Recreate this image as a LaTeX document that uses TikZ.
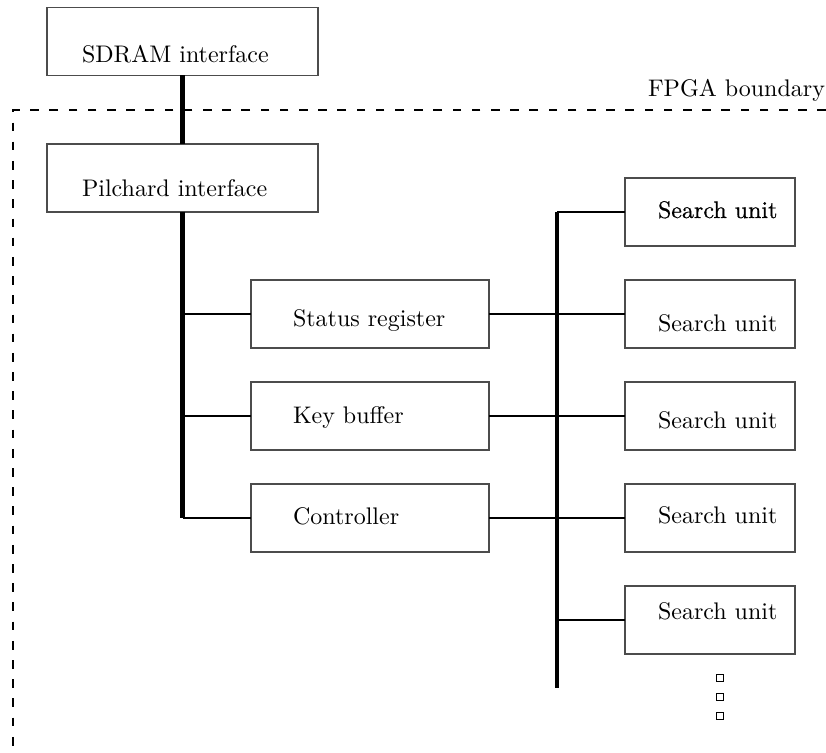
\documentclass[tikz,border=0pt]{standalone}
\usepackage{fontspec}
\newfontfamily\darkfont[FakeBold=0.6]{lmroman10-regular.otf}
\begin{document}
\def\u{0.4167pt}
\begin{tikzpicture}[x=0.4167pt,y=-0.4167pt,
  blk/.style={draw=black!70,line width=0.45pt,minimum height=68*\u,inner sep=0pt,outer sep=0pt},
  widebox/.style={blk,minimum width=271*\u},
  midbox/.style={blk,minimum width=238*\u},
  subox/.style={blk,minimum width=170*\u},
  lbl/.style={anchor=base west,inner sep=0pt,outer sep=0pt},
  bus/.style={line width=2pt},
  wire/.style={line width=0.8pt},
  bound/.style={line width=0.8pt,dash pattern=on 3.6pt off 4.4pt},
  dotbox/.style={draw,line width=0.4pt,minimum size=7*\u,inner sep=0pt}]
\useasboundingbox (0,0) rectangle (826,753);
% boxes
\node[widebox] (sdram) at (182.5,41.5) {};
\node[widebox] (pil) at (182.5,178) {};
\node[midbox] (stat) at (370,314) {};
\node[midbox] (key) at (370,416) {};
\node[midbox] (ctrl) at (370,518) {};
\node[subox] (su1) at (710,212) {};
\node[subox] (su2) at (710,314) {};
\node[subox] (su3) at (710,416) {};
\node[subox] (su4) at (710,518) {};
\node[subox] (su5) at (710,620) {};
% texts
\node[lbl] (tsdram) at (82,63) {SDRAM interface};
\node[lbl] (tpil) at (82,197) {Pilchard interface};
\node[lbl] (tstat) at (293,327) {Status register};
\node[lbl] (tkey) at (293,424) {Key buffer};
\node[lbl] (tctrl) at (293,525) {Controller};
\node[lbl] (tsu1) at (658,218) {\darkfont Search unit};
\node[lbl] (tsu2) at (658,332) {Search unit};
\node[lbl] (tsu3) at (658,429) {Search unit};
\node[lbl] (tsu4) at (658,524) {Search unit};
\node[lbl] (tsu5) at (658,620) {Search unit};
\node[lbl] (tfpga) at (648,97) {FPGA boundary};
% boundary
\coordinate (b1) at (826,110);
\coordinate (b2) at (13,110);
\coordinate (b3) at (13,753);
\draw[bound] (b1) -- (b2) -- (b3);
% left bus
\coordinate (lbend) at (182.5,518);
\draw[bus] (sdram.south) -- (pil.north);
\draw[bus] (pil.south) -- (lbend);
\coordinate (l1) at (182.5,314);
\coordinate (l2) at (182.5,416);
\draw[wire] (l1) -- (stat.west);
\draw[wire] (l2) -- (key.west);
\draw[wire] (lbend) -- (ctrl.west);
% right bus
\coordinate (rtop) at (557,212);
\coordinate (rbot) at (557,688);
\coordinate (r5) at (557,620);
\draw[bus] (rtop) -- (rbot);
\draw[wire] (rtop) -- (su1.west);
\draw[wire] (stat.east) -- (su2.west);
\draw[wire] (key.east) -- (su3.west);
\draw[wire] (ctrl.east) -- (su4.west);
\draw[wire] (r5) -- (su5.west);
% dots
\node[dotbox] (d1) at (720,678) {};
\node[dotbox] (d2) at (720,697) {};
\node[dotbox] (d3) at (720,716) {};
\end{tikzpicture}
\end{document}
